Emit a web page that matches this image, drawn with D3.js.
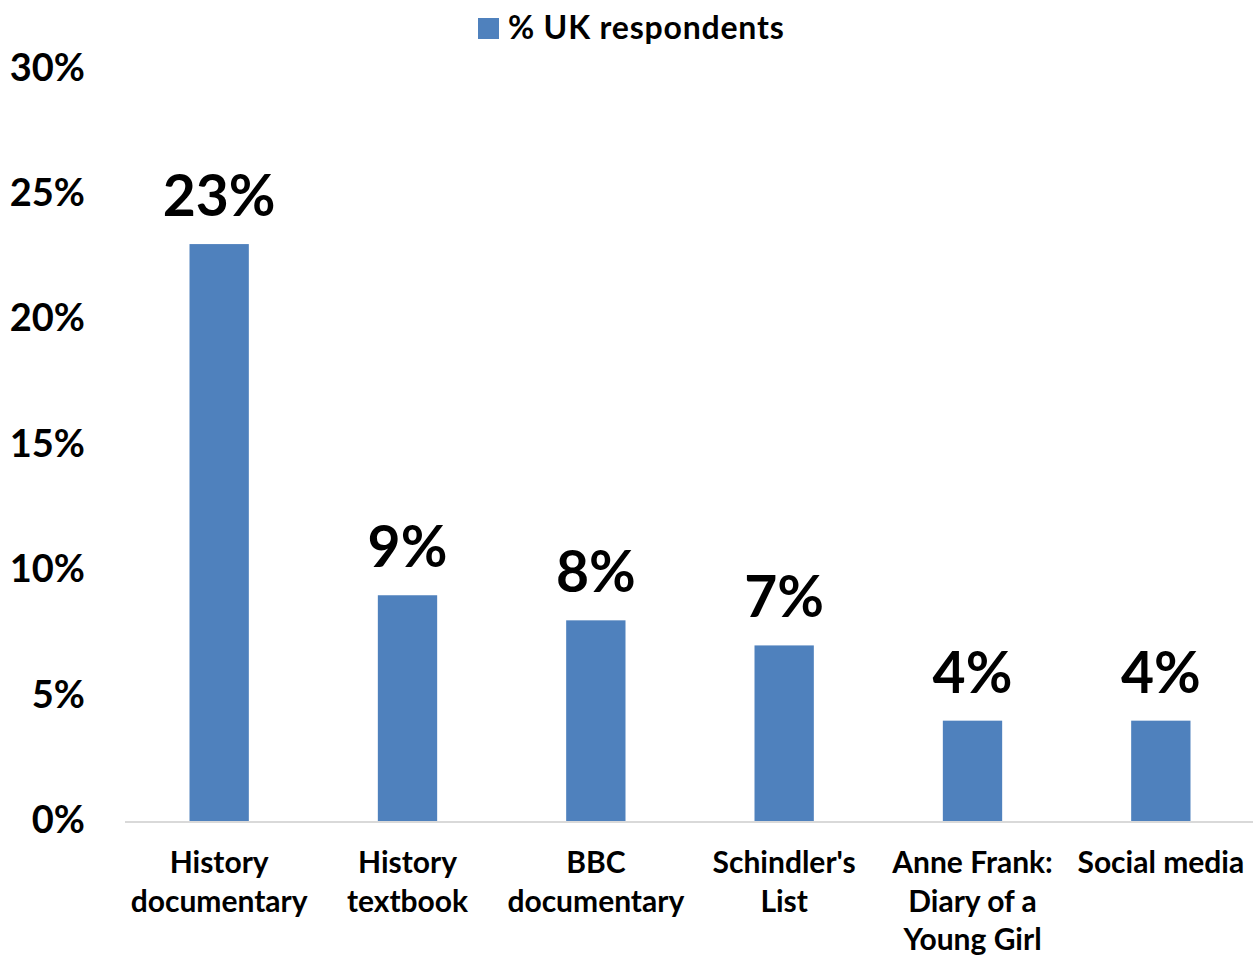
<!DOCTYPE html>
<html>
<head>
<meta charset="utf-8">
<script src="https://cdn.jsdelivr.net/npm/d3@7"></script>
<style>
  html, body { margin: 0; padding: 0; background: #fff; }
  svg { display: block; font-family: Lato, "Open Sans", sans-serif; font-weight: bold; }
</style>
</head>
<body>
<svg id="chart" width="1253" height="956"></svg>
<script>
const categories = [
  ["History", "documentary"],
  ["History", "textbook"],
  ["BBC", "documentary"],
  ["Schindler's", "List"],
  ["Anne Frank:", "Diary of a", "Young Girl"],
  ["Social media"]
];
const values = [23, 9, 8, 7, 4, 4];
const yTicks = [0, 5, 10, 15, 20, 25, 30];
const seriesName = "% UK respondents";

const svg = d3.select("#chart");
const keys = categories.map(c => c.join(" "));

const x = d3.scaleBand().domain(keys).range([125, 1255]).paddingInner(0).paddingOuter(0);
const y = d3.scaleLinear().domain([0, 30]).range([821, 68.5]);
const barW = x.bandwidth() * 0.315;
const color = "#4f81bd";

// Y tick labels
svg.append("g").selectAll("text").data(yTicks).join("text")
  .attr("x", 85).attr("y", d => y(d) + 12)
  .attr("text-anchor", "end")
  .attr("font-size", 38)
  .attr("fill", "#000")
  .text(d => d + "%");

// Bars
svg.append("g").selectAll("rect").data(values).join("rect")
  .attr("x", (d, i) => x(keys[i]) + x.bandwidth() / 2 - barW / 2)
  .attr("y", d => y(d))
  .attr("width", barW)
  .attr("height", d => y(0) - y(d))
  .attr("fill", color);

// Axis line
svg.append("line")
  .attr("x1", 125).attr("x2", 1253)
  .attr("y1", y(0) + 1).attr("y2", y(0) + 1)
  .attr("stroke", "#d9d9d9").attr("stroke-width", 2);

// Data labels
svg.append("g").selectAll("text").data(values).join("text")
  .attr("x", (d, i) => x(keys[i]) + x.bandwidth() / 2)
  .attr("y", d => y(d) - 28)
  .attr("text-anchor", "middle")
  .attr("font-size", 57)
  .attr("fill", "#000")
  .text(d => d + "%");

// Category labels
const cat = svg.append("g").selectAll("text").data(categories).join("text")
  .attr("x", (d, i) => x(keys[i]) + x.bandwidth() / 2)
  .attr("y", 873)
  .attr("text-anchor", "middle")
  .attr("font-size", 30)
  .attr("fill", "#000");
cat.selectAll("tspan").data((d, i) => d.map(t => ({t, cx: x(keys[i]) + x.bandwidth() / 2}))).join("tspan")
  .attr("x", d => d.cx)
  .attr("dy", (d, j) => j === 0 ? 0 : 38.5)
  .text(d => d.t);

// Legend
svg.append("rect").attr("x", 478).attr("y", 18).attr("width", 21).attr("height", 21).attr("fill", color);
svg.append("text").attr("x", 508).attr("y", 38.5)
  .attr("font-size", 32).attr("letter-spacing", 0.8).attr("fill", "#000").text(seriesName);
</script>
</body>
</html>
